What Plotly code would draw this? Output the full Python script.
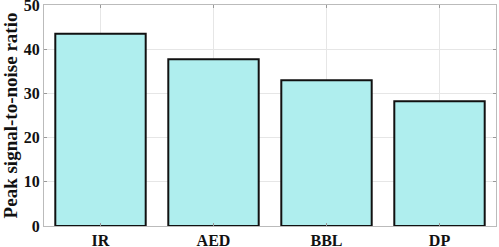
import plotly.graph_objects as go

categories = ["IR", "AED", "BBL", "DP"]
psnr = [43.5, 37.7, 33.0, 28.2]
y_ticks = [0, 10, 20, 30, 40, 50]

fig = go.Figure(go.Bar(
    x=categories, y=psnr,
    marker=dict(color="#AFEEEE", line=dict(color="#111111", width=2)),
    width=0.8,
))

axis_common = dict(
    showline=True, linecolor="#BBBBBB", linewidth=1, mirror="ticks",
    ticks="inside", ticklen=3, tickcolor="#999999",
    showgrid=True, gridcolor="#E6E6E6", gridwidth=1,
    zeroline=False, ticklabeloverflow="allow", automargin=False,
    tickfont=dict(family="Liberation Serif", size=16, color="#111111", weight="bold"),
)
fig.update_layout(
    width=499, height=247,
    margin=dict(l=44, r=3, t=5, b=21, autoexpand=False),
    plot_bgcolor="white", paper_bgcolor="white",
    showlegend=False,
    bargap=0.2,
)
fig.update_xaxes(range=[-0.5, 3.5], ticklabelstandoff=0, **axis_common)
fig.update_yaxes(range=[0, 50], tickvals=y_ticks, **axis_common,
                 title=dict(text="Peak signal-to-noise ratio", standoff=6,
                            font=dict(family="Liberation Serif", size=19, color="#111111", weight="bold")))

fig.write_html("out.html", config={"displayModeBar": False},
               post_script="document.body.style.margin='0';document.body.style.overflow='hidden';")
